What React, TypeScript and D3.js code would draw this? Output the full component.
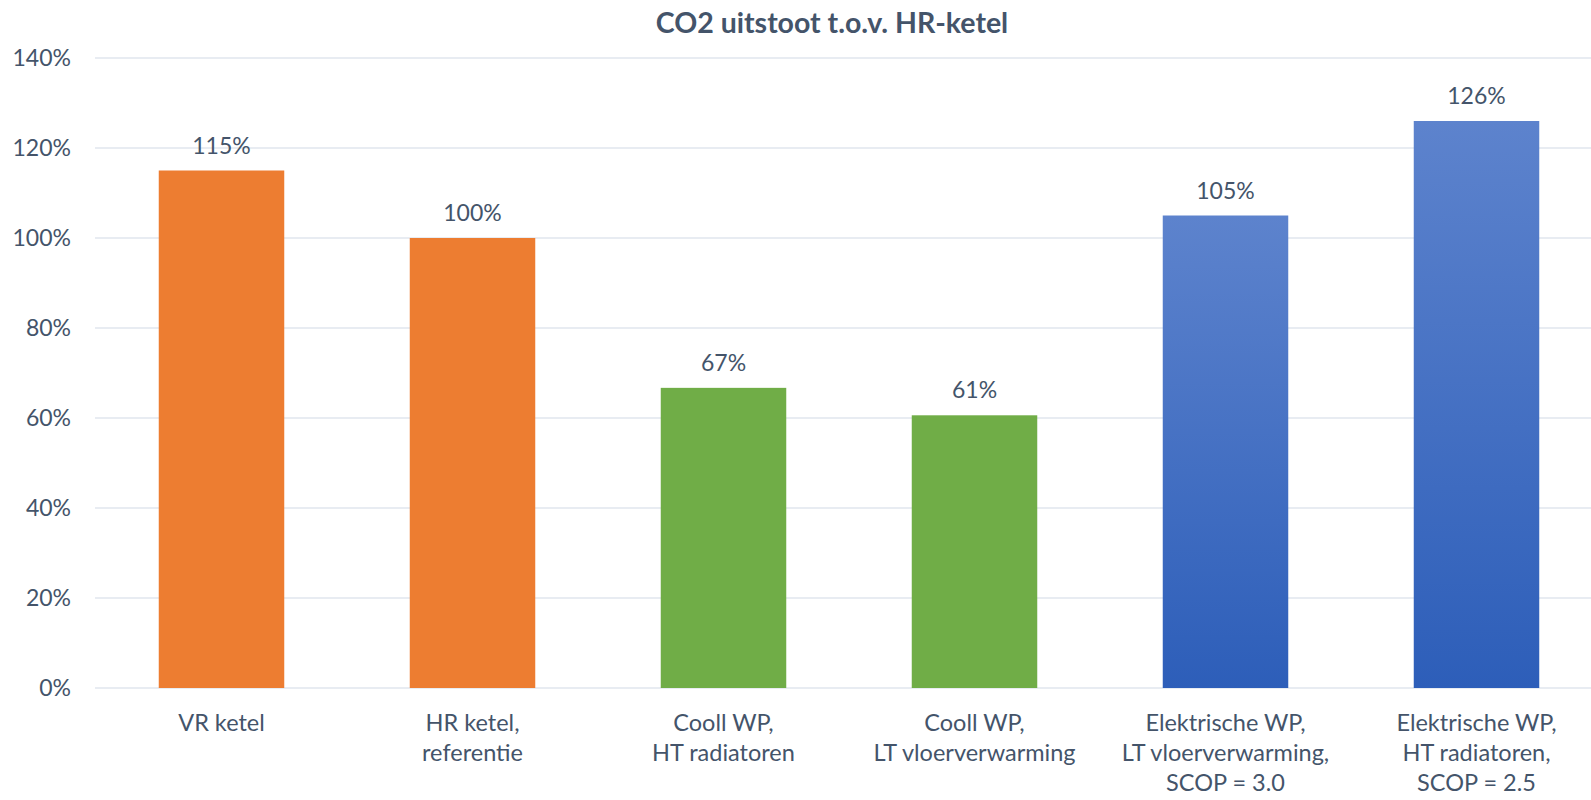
import * as d3 from "d3";

const categories = [
  ["VR ketel"],
  ["HR ketel,", "referentie"],
  ["Cooll WP,", "HT radiatoren"],
  ["Cooll WP,", "LT vloerverwarming"],
  ["Elektrische WP,", "LT vloerverwarming,", "SCOP = 3.0"],
  ["Elektrische WP,", "HT radiatoren,", "SCOP = 2.5"],
];
const co2Values = [115, 100, 66.7, 60.6, 105, 126];
const barGroups = ["gas", "gas", "cooll", "cooll", "elec", "elec"];
const yTicks = [0, 20, 40, 60, 80, 100, 120, 140];
const chartTitle = "CO2 uitstoot t.o.v. HR-ketel";

const W = 1591;
const H = 800;
const textColor = "#44546a";
const font = "Lato, 'Open Sans', sans-serif";

export default function App() {
  const x = d3
    .scaleBand<number>()
    .domain(d3.range(categories.length))
    .range([96, 1602])
    .paddingInner(0.5)
    .paddingOuter(0.25);
  const y = d3.scaleLinear().domain([0, 140]).range([688, 58]);

  const fillFor = (g: string) =>
    g === "gas" ? "#ed7d31" : g === "cooll" ? "#70ad47" : "url(#blueGrad)";

  return (
    <svg
      width={W}
      height={H}
      style={{ position: "absolute", left: 0, top: 0, background: "#fff" }}
      fontFamily={font}
    >
      <defs>
        <linearGradient id="blueGrad" x1="0" y1="0" x2="0" y2="1">
          <stop offset="0%" stopColor="#5d83cd" />
          <stop offset="100%" stopColor="#2d5eb9" />
        </linearGradient>
      </defs>

      <text
        x={832}
        y={33}
        textAnchor="middle"
        fontSize={28.5}
        fontWeight="bold"
        fill={textColor}
      >
        {chartTitle}
      </text>

      {/* grid + y labels */}
      {yTicks.map((t) => (
        <g key={t}>
          <line
            x1={95}
            x2={W}
            y1={y(t)}
            y2={y(t)}
            stroke="#e8ecf2"
            strokeWidth={2}
          />
          <text
            x={71}
            y={y(t)}
            dy="0.36em"
            textAnchor="end"
            fontSize={23}
            fill={textColor}
          >
            {t}%
          </text>
        </g>
      ))}

      {/* bars */}
      {co2Values.map((v, i) => (
        <g key={i}>
          <rect
            x={x(i)}
            y={y(v)}
            width={x.bandwidth()}
            height={y(0) - y(v)}
            fill={fillFor(barGroups[i])}
          />
          <text
            x={(x(i) ?? 0) + x.bandwidth() / 2}
            y={y(v) - 17}
            textAnchor="middle"
            fontSize={23}
            fill={textColor}
          >
            {Math.round(v)}%
          </text>
        </g>
      ))}

      {/* category labels */}
      {categories.map((lines, i) => (
        <text
          key={i}
          x={(x(i) ?? 0) + x.bandwidth() / 2}
          y={731}
          textAnchor="middle"
          fontSize={23.5}
          fill={textColor}
        >
          {lines.map((l, j) => (
            <tspan key={j} x={(x(i) ?? 0) + x.bandwidth() / 2} dy={j === 0 ? 0 : 30}>
              {l}
            </tspan>
          ))}
        </text>
      ))}
    </svg>
  );
}
